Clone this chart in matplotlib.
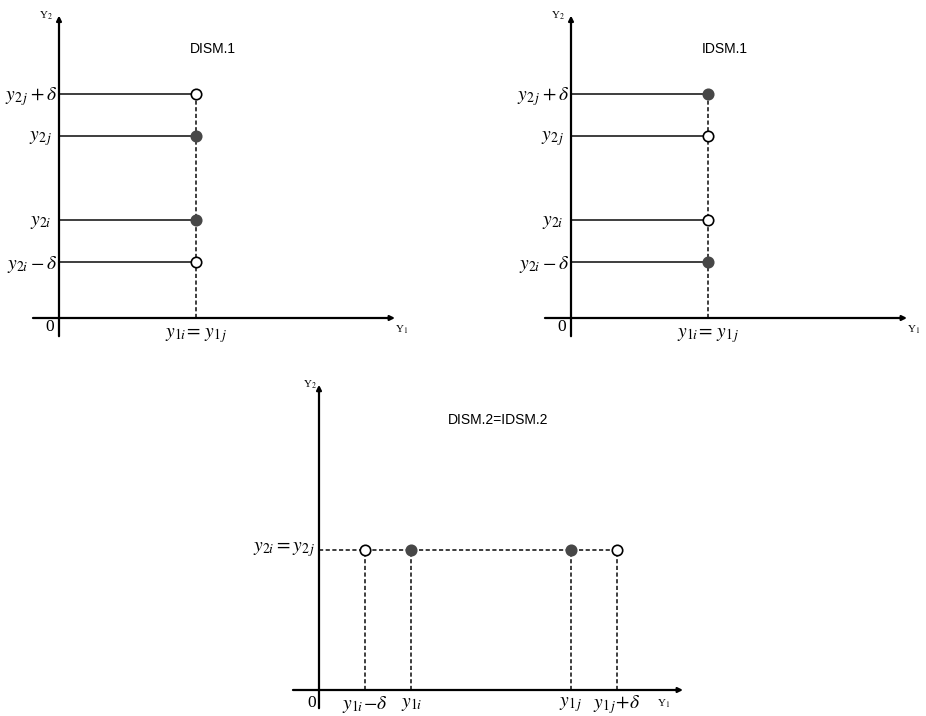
import numpy as np
import matplotlib
matplotlib.use("Agg")
import matplotlib.pyplot as plt

plt.rcParams["mathtext.fontset"] = "stix"
plt.rcParams["font.family"] = ["Liberation Serif", "DejaVu Serif"]

# ── data (abstract units) ────────────────────────────────────────────────
Y2I, Y2J, DELTA_TOP, Y1_TOP = 7.0, 13.0, 3.0, 9.8
TOP_LEVELS = [Y2J + DELTA_TOP, Y2J, Y2I, Y2I - DELTA_TOP]
TOP_LEVEL_LABELS = [r"$y_{2\,j}+\delta$", r"$y_{2\,j}$", r"$y_{2i}$", r"$y_{2i}-\delta$"]
DISM1_FILLED = [False, True, True, False]
IDSM1_FILLED = [True, False, False, True]

Y1I, Y1J, DELTA_BOT, Y2_BOT = 6.6, 18.0, 3.3, 10.0
BOT_POINTS = [Y1I - DELTA_BOT, Y1I, Y1J, Y1J + DELTA_BOT]
BOT_POINT_LABELS = [r"$y_{1i}\!-\!\delta$", r"$y_{1i}$", r"$y_{1\,j}$", r"$y_{1\,j}\!+\!\delta$"]
BOT_FILLED = [False, True, True, False]

# ── layout ───────────────────────────────────────────────────────────────
W, H, DPI = 926, 716, 100
PX = 14.0           # pixels per data unit
FILL_C = "#474747"
LINE_C = "#1e1e1e"
DASH = (0, (2.5, 1.5))

fig = plt.figure(figsize=(W / DPI, H / DPI), dpi=DPI)
fig.patch.set_facecolor("white")


def make_axes(ox, oy, xlim, ylim):
    """Axes whose data origin lands on pixel (ox, oy) (top-left pixel coords)."""
    left = (ox + xlim[0] * PX) / W
    bottom = (H - oy + ylim[0] * PX) / H
    ax = fig.add_axes([left, bottom, (xlim[1] - xlim[0]) * PX / W,
                       (ylim[1] - ylim[0]) * PX / H])
    ax.set_xlim(*xlim)
    ax.set_ylim(*ylim)
    ax.axis("off")
    arrow = dict(arrowstyle="-|>", lw=1.6, color="black", mutation_scale=7,
                 shrinkA=0, shrinkB=0)
    ax.annotate("", xy=(xlim[1], 0), xytext=(xlim[0], 0), arrowprops=arrow)
    ax.annotate("", xy=(0, ylim[1]), xytext=(0, ylim[0]), arrowprops=arrow)
    return ax


def marker(ax, x, y, filled):
    ax.plot([x], [y], "o", ms=7.5, mfc=FILL_C if filled else "white",
            mec=FILL_C if filled else "black", mew=1.2, zorder=5)


def top_panel(ox, title, filled_flags):
    ax = make_axes(ox, 318, (-1.86, 24.0), (-1.3, 21.6))
    for lvl, lab, filled in zip(TOP_LEVELS, TOP_LEVEL_LABELS, filled_flags):
        ax.plot([0, Y1_TOP], [lvl, lvl], color=LINE_C, lw=1.2)
        marker(ax, Y1_TOP, lvl, filled)
        off = -0.1 if "delta" in lab else -0.5
        ax.text(off, lvl - 0.15, lab, ha="right", va="center", fontsize=14)
    ax.plot([Y1_TOP, Y1_TOP], [0, max(TOP_LEVELS)], color=LINE_C, lw=1.2,
            ls=DASH, zorder=1)
    ax.text(Y1_TOP, -0.55, r"$y_{1i}\!=\,y_{1\,j}$", ha="center", va="top", fontsize=14)
    ax.text(-0.65, -0.65, "0", ha="center", va="center", fontsize=12.5)
    ax.text(-0.9, 21.6, r"Y$_2$", ha="center", va="center", fontsize=8)
    ax.text(24.5, -0.85, r"Y$_1$", ha="center", va="center", fontsize=8)
    ax.text(11.0, 19.2, title, ha="center", va="center", fontsize=10,
            family="Liberation Sans")


top_panel(59, "DISM.1", DISM1_FILLED)
top_panel(571, "IDSM.1", IDSM1_FILLED)

# ── bottom panel ─────────────────────────────────────────────────────────
ax = make_axes(319, 690, (-1.86, 26.0), (-1.3, 21.8))
ax.plot([0, max(BOT_POINTS)], [Y2_BOT, Y2_BOT], color=LINE_C, lw=1.2,
        ls=DASH, zorder=1)
for x, lab, filled in zip(BOT_POINTS, BOT_POINT_LABELS, BOT_FILLED):
    ax.plot([x, x], [0, Y2_BOT], color=LINE_C, lw=1.2, ls=DASH, zorder=1)
    marker(ax, x, Y2_BOT, filled)
    ax.text(x, -1.05, lab, ha="center", va="center", fontsize=14)
ax.text(-0.25, Y2_BOT, r"$y_{2i}=y_{2\,j}$", ha="right", va="center", fontsize=14)
ax.text(-0.5, -0.95, "0", ha="center", va="center", fontsize=12.5)
ax.text(-0.65, 21.8, r"Y$_2$", ha="center", va="center", fontsize=8)
ax.text(24.6, -0.95, r"Y$_1$", ha="center", va="center", fontsize=8)
ax.text(12.8, 19.3, "DISM.2=IDSM.2", ha="center", va="center", fontsize=10,
        family="Liberation Sans")

fig.savefig("out.png", dpi=DPI, facecolor="white")
